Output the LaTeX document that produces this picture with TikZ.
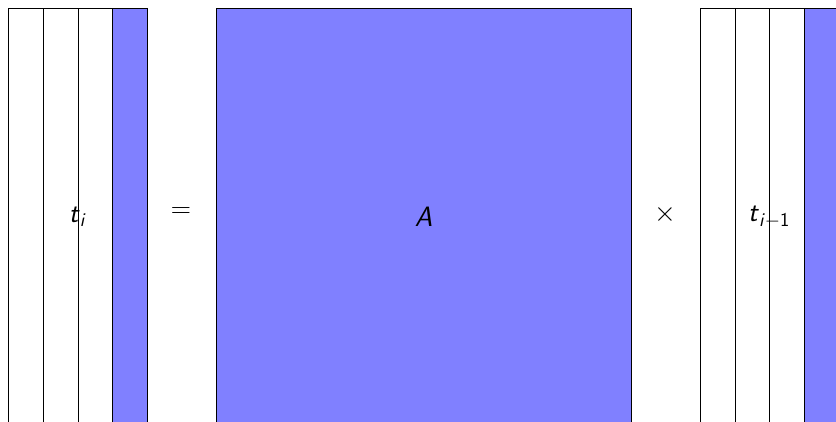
\RequirePackage{fix-cm}
\documentclass[tikz,border=0pt]{standalone}
\usepackage{amsmath}
\begin{document}
\begin{tikzpicture}[x=1pt,y=-1pt,
  col/.style={draw=black,line width=0.8pt,fill=white},
  bcol/.style={draw=black,line width=0.8pt,fill=blue!50},
  lab/.style={inner sep=0pt,font=\fontsize{28}{32}\selectfont}]
\useasboundingbox (0,0) rectangle (836,422);
\clip (0,0) rectangle (836,422);
% left matrix t_i
\draw[col] (8,8) rectangle (43,430);
\draw[col] (43,8) rectangle (78,430);
\draw[col] (78,8) rectangle (112,430);
\draw[bcol] (112,8) rectangle (147,430);
% middle matrix A
\draw[bcol] (216,8) rectangle (631,430);
% right matrix t_{i-1}
\draw[col] (700,8) rectangle (735,430);
\draw[col] (735,8) rectangle (769,430);
\draw[col] (769,8) rectangle (804,430);
\draw[bcol] (804,8) rectangle (839,430);
% labels
\node[lab] (ti) at (77.5,217) {$\textsf{\textit{t}}_{\textsf{\textit{i}}}$};
\node[lab] (eq) at (181,213) {$=$};
\node[lab] (A) at (423.5,217) {$\textsf{\textit{A}}$};
\node[lab] (times) at (665,215) {$\times$};
\node[lab] (tim1) at (769,217) {$\textsf{\textit{t}}_{\textsf{\textit{i}}-\textsf{1}}$};
\end{tikzpicture}
\end{document}
